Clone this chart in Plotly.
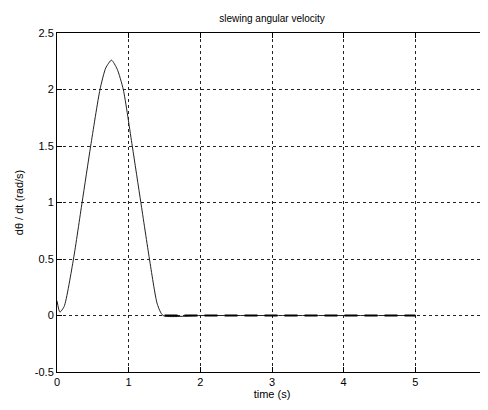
import plotly.graph_objects as go

time_s = [0.0, 0.04, 0.10, 0.23, 0.35, 0.47, 0.60, 0.68, 0.76, 0.84, 0.925, 1.05, 1.17, 1.29, 1.40, 1.48, 2.0, 3.0, 4.0, 5.0]
velocity = [0.13, 0.03, 0.08, 0.50, 1.00, 1.50, 2.00, 2.19, 2.26, 2.18, 2.00, 1.50, 1.00, 0.50, 0.10, 0.0, 0.0, 0.0, 0.0, 0.0]
ref_time = [1.5, 5.0]
ref_velocity = [0.0, 0.0]

x_ticks = [0, 1, 2, 3, 4, 5, 6]
y_ticks = [-0.5, 0, 0.5, 1, 1.5, 2, 2.5]
y_tick_text = ["-0.5", "0", "0.5", "1", "1.5", "2", "2.5"]

W, H = 480, 402

fig = go.Figure()
fig.add_trace(go.Scatter(x=time_s, y=velocity, mode="lines",
                         line=dict(color="#222222", width=1, shape="spline", smoothing=0.6),
                         showlegend=False))
fig.add_trace(go.Scatter(x=ref_time, y=ref_velocity, mode="lines",
                         line=dict(color="black", width=2, dash="13px,7px"),
                         showlegend=False))

font = dict(family="Liberation Sans, Arial, sans-serif", size=11, color="black")
fig.update_layout(
    width=W, height=H,
    margin=dict(l=49, r=1, t=25, b=38),
    paper_bgcolor="white", plot_bgcolor="white",
    font=font,
    title=dict(text="slewing angular velocity", x=264 / W, xanchor="center",
               y=1 - 10 / H, yanchor="middle", font=dict(size=10, family=font["family"])),
)
fig.update_xaxes(range=[0, 6], tickvals=x_ticks, ticks="inside", ticklen=5, tickcolor="black",
                 showline=True, linecolor="black", linewidth=1, mirror="ticks", automargin=False,
                 ticklabeloverflow="allow",
                 showgrid=True, gridcolor="#222222", griddash="3px,3px", gridwidth=1,
                 zeroline=False, title=dict(text="time (s)", standoff=2, font=dict(size=11)))
fig.update_yaxes(range=[-0.5, 2.5], tickvals=y_ticks, ticktext=y_tick_text, ticks="inside", ticklen=5,
                 tickcolor="black", showline=True, linecolor="black", linewidth=1, automargin=False,
                 showgrid=True, gridcolor="#222222", griddash="3px,3px", gridwidth=1,
                 zeroline=False, title=dict(text="dθ / dt (rad/s)", standoff=8, font=dict(size=11)))

fig.write_html("out.html")
